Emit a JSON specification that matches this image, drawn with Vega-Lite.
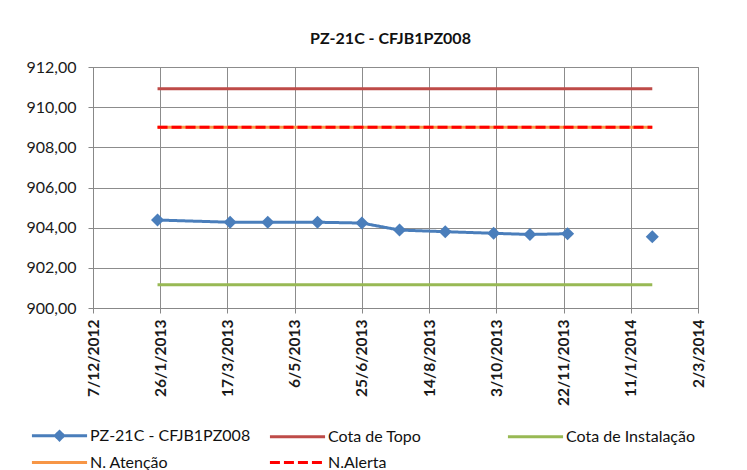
{
  "$schema": "https://vega.github.io/schema/vega-lite/v6.json",
  "autosize": "none",
  "width": 605,
  "height": 241,
  "padding": {"left": 93, "top": 67, "right": 49, "bottom": 162},
  "background": "white",
  "config": {
    "locale": {"number": {"decimal": ",", "thousands": ".", "grouping": [3], "currency": ["R$", ""]}},
    "font": "Lato",
    "view": {"stroke": "#888888", "strokeWidth": 1},
    "axis": {"gridColor": "#8c8c8c", "gridWidth": 1, "domainColor": "#888888", "tickColor": "#888888", "labelColor": "#1a1a1a", "labelFontSize": 13, "titleFontSize": 0}
  },
  "title": {"text": "PZ-21C - CFJB1PZ008", "fontSize": 16, "fontWeight": "bold", "font": "Lato", "color": "#111111", "anchor": "middle", "offset": 12, "dx": -5},
  "data": {
    "values": [
      {"series": "PZ-21C - CFJB1PZ008", "date": "2013-01-24", "value": 904.38, "line": "yes"},
      {"series": "PZ-21C - CFJB1PZ008", "date": "2013-03-19", "value": 904.27, "line": "yes"},
      {"series": "PZ-21C - CFJB1PZ008", "date": "2013-04-16", "value": 904.27, "line": "yes"},
      {"series": "PZ-21C - CFJB1PZ008", "date": "2013-05-23", "value": 904.27, "line": "yes"},
      {"series": "PZ-21C - CFJB1PZ008", "date": "2013-06-25", "value": 904.23, "line": "yes"},
      {"series": "PZ-21C - CFJB1PZ008", "date": "2013-07-23", "value": 903.88, "line": "yes"},
      {"series": "PZ-21C - CFJB1PZ008", "date": "2013-08-26", "value": 903.80, "line": "yes"},
      {"series": "PZ-21C - CFJB1PZ008", "date": "2013-10-01", "value": 903.72, "line": "yes"},
      {"series": "PZ-21C - CFJB1PZ008", "date": "2013-10-28", "value": 903.66, "line": "yes"},
      {"series": "PZ-21C - CFJB1PZ008", "date": "2013-11-25", "value": 903.70, "line": "yes"},
      {"series": "PZ-21C - CFJB1PZ008", "date": "2014-01-27", "value": 903.55, "line": "no"},
      {"series": "Cota de Topo", "date": "2013-01-24", "value": 910.92, "line": "yes"},
      {"series": "Cota de Topo", "date": "2014-01-27", "value": 910.92, "line": "yes"},
      {"series": "N. Atenção", "date": "2013-01-24", "value": 909.0, "line": "yes"},
      {"series": "N. Atenção", "date": "2014-01-27", "value": 909.0, "line": "yes"},
      {"series": "N.Alerta", "date": "2013-01-24", "value": 909.0, "line": "yes"},
      {"series": "N.Alerta", "date": "2014-01-27", "value": 909.0, "line": "yes"},
      {"series": "Cota de Instalação", "date": "2013-01-24", "value": 901.16, "line": "yes"},
      {"series": "Cota de Instalação", "date": "2014-01-27", "value": 901.16, "line": "yes"}
    ]
  },
  "encoding": {
    "x": {
      "field": "date", "type": "temporal",
      "scale": {"type": "utc", "domain": [{"year": 2012, "month": 12, "date": 7, "utc": true}, {"year": 2014, "month": 3, "date": 2, "utc": true}], "nice": false},
      "axis": {
        "title": null,
        "values": [
          {"year": 2012, "month": 12, "date": 7, "utc": true},
          {"year": 2013, "month": 1, "date": 26, "utc": true},
          {"year": 2013, "month": 3, "date": 17, "utc": true},
          {"year": 2013, "month": 5, "date": 6, "utc": true},
          {"year": 2013, "month": 6, "date": 25, "utc": true},
          {"year": 2013, "month": 8, "date": 14, "utc": true},
          {"year": 2013, "month": 10, "date": 3, "utc": true},
          {"year": 2013, "month": 11, "date": 22, "utc": true},
          {"year": 2014, "month": 1, "date": 11, "utc": true},
          {"year": 2014, "month": 3, "date": 2, "utc": true}
        ],
        "labelExpr": "utcdate(datum.value) + '/' + (utcmonth(datum.value) + 1) + '/' + utcyear(datum.value)",
        "labelAngle": -90,
        "labelFontWeight": "bold",
        "labelFontSize": 15.5,
        "labelPadding": 6,
        "tickSize": 5,
        "grid": true
      }
    },
    "y": {
      "field": "value", "type": "quantitative",
      "scale": {"domain": [900, 912], "nice": false, "zero": false},
      "axis": {"title": null, "values": [900, 902, 904, 906, 908, 910, 912], "format": ".2f", "labelFontSize": 16, "tickSize": 5, "labelPadding": 12, "grid": true}
    }
  },
  "layer": [
    {
      "transform": [{"filter": "datum.line === 'yes'"}],
      "mark": {"type": "line", "strokeWidth": 3},
      "encoding": {
        "color": {
          "field": "series", "type": "nominal",
          "scale": {
            "domain": ["PZ-21C - CFJB1PZ008", "Cota de Topo", "Cota de Instalação", "N. Atenção", "N.Alerta"],
            "range": ["#4A7EBB", "#BE4B48", "#98B954", "#F79646", "#FF0000"]
          },
          "legend": {
            "title": null,
            "orient": "none",
            "legendX": -42,
            "legendY": 360,
            "columns": 3,
            "direction": "horizontal",
            "gridAlign": "all",
            "columnPadding": 12,
            "rowPadding": 8,
            "symbolType": "M-4,0H4",
            "symbolSize": 190,
            "symbolStrokeWidth": 3,
            "labelFontSize": 16,
            "labelColor": "#111111",
            "labelOffset": 22,
            "labelLimit": 300,
            "encode": {
              "symbols": {
                "update": {
                  "shape": {"signal": "datum.value === 'PZ-21C - CFJB1PZ008' ? 'M-4,0L-0.6,0L0,-0.6L0.6,0L4,0L0.6,0L0,0.6L-0.6,0Z' : 'M-4,0H4'"},
                  "fill": {"signal": "datum.value === 'PZ-21C - CFJB1PZ008' ? '#4A7EBB' : 'transparent'"}
                }
              }
            }
          }
        },
        "strokeDash": {
          "field": "series", "type": "nominal",
          "scale": {
            "domain": ["PZ-21C - CFJB1PZ008", "Cota de Topo", "Cota de Instalação", "N. Atenção", "N.Alerta"],
            "range": [[1, 0], [1, 0], [1, 0], [1, 0], [10, 4]]
          }
        }
      }
    },
    {
      "transform": [{"filter": "datum.series === 'PZ-21C - CFJB1PZ008'"}],
      "mark": {"type": "point", "shape": "diamond", "filled": true, "size": 170, "color": "#4A7EBB", "opacity": 1}
    }
  ]
}
